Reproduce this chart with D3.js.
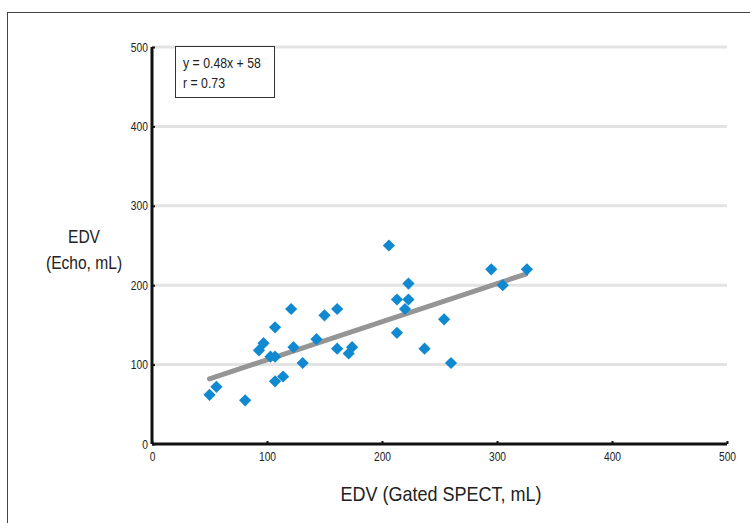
<!DOCTYPE html>
<html><head><meta charset="utf-8">
<script src="https://cdn.jsdelivr.net/npm/d3@7"></script>
<style>
body{margin:0;background:#fff;}
text{font-family:"Liberation Sans Narrow","Liberation Sans",Arial,sans-serif;fill:#222;}
</style></head>
<body>
<svg id="chart" width="750" height="523"></svg>
<script>
const spectEDV = [50,56,81,93,97,107,103,107,107,114,121,123,131,143,150,161,161,171,174,206,213,223,223,220,213,237,254,260,295,305,326];
const echoEDV  = [62,72,55,118,127,147,110,110,79,85,170,122,102,132,162,170,120,114,122,250,182,202,182,170,140,120,157,102,220,200,220];
const xTicks = [0,100,200,300,400,500];
const yTicks = [0,100,200,300,400,500];
const slope = 0.48, intercept = 58;
const fitRange = [50, 325];
const legendLines = ["y = 0.48x + 58", "r = 0.73"];
const xTitle = "EDV (Gated SPECT, mL)";
const yTitle = ["EDV", "(Echo, mL)"];

const svg = d3.select("#chart");
svg.append("rect").attr("x",7.5).attr("y",12.5).attr("width",800).attr("height",600)
  .attr("fill","none").attr("stroke","#444").attr("stroke-width",1);

const x = d3.scaleLinear().domain([0,500]).range([152,727]);
const y = d3.scaleLinear().domain([0,500]).range([444,47]);
const SX = 0.82;

// gridlines
svg.append("g").selectAll("line").data(yTicks.filter(d=>d>0)).join("line")
  .attr("x1",x(0)).attr("x2",x(500)).attr("y1",d=>y(d)).attr("y2",d=>y(d))
  .attr("stroke","#e3e3e3").attr("stroke-width",3);

// axes
const xAxis = svg.append("g").attr("transform",`translate(0,${y(0)})`)
  .call(d3.axisBottom(x).tickValues(xTicks).tickSize(-3).tickPadding(8));
const yAxis = svg.append("g").attr("transform",`translate(${x(0)},0)`)
  .call(d3.axisLeft(y).tickValues(yTicks).tickSize(-3).tickPadding(5));
[xAxis,yAxis].forEach(g=>{
  g.select(".domain").attr("stroke","#111").attr("stroke-width",3);
  g.selectAll(".tick line").attr("stroke","#111").attr("stroke-width",2);
  g.selectAll(".tick text").attr("font-size",12.5).attr("fill","#222")
   .attr("transform",`scale(${SX},1)`)
   .attr("font-family",'"Liberation Sans Narrow","Liberation Sans",Arial,sans-serif');
});
xAxis.select(".domain").attr("d",`M${x(0)},0H${x(500)}`);
yAxis.select(".domain").attr("d",`M0,${y(500)}V${y(0)}`);

// fit line
svg.append("line")
  .attr("x1",x(fitRange[0])).attr("y1",y(slope*fitRange[0]+intercept))
  .attr("x2",x(fitRange[1])).attr("y2",y(slope*fitRange[1]+intercept))
  .attr("stroke","#959595").attr("stroke-width",5).attr("stroke-linecap","round");

// points
const diamond = d3.symbol().type(d3.symbolDiamond2).size(95);
svg.append("g").selectAll("path").data(spectEDV.map((v,i)=>[v,echoEDV[i]])).join("path")
  .attr("d",diamond).attr("transform",d=>`translate(${x(d[0])},${y(d[1])})`)
  .attr("fill","#1189d0");

// legend
svg.append("rect").attr("x",175.5).attr("y",46.5).attr("width",99).attr("height",51)
  .attr("fill","#fff").attr("stroke","#333").attr("stroke-width",1);
svg.append("g").selectAll("text").data(legendLines).join("text")
  .attr("transform",(d,i)=>`translate(183,${68+i*20}) scale(${SX},1)`)
  .attr("font-size",15).text(d=>d);

// titles
svg.append("text").attr("transform",`translate(441,501) scale(0.9,1)`).attr("text-anchor","middle")
  .attr("font-size",20).text(xTitle);
svg.append("g").selectAll("text").data(yTitle).join("text")
  .attr("transform",(d,i)=>`translate(84,${243+i*26}) scale(${SX},1)`).attr("text-anchor","middle")
  .attr("font-size",19).text(d=>d);
</script>
</body></html>
